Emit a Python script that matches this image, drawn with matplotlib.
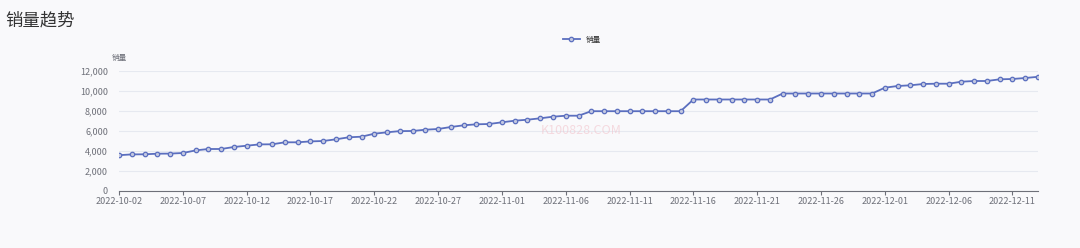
import matplotlib.pyplot as plt
import pandas as pd

plt.rcParams['font.family'] = ['Noto Sans CJK SC', 'DejaVu Sans']

# 每日销量 2022-10-02 ~ 2022-12-13
dates = pd.date_range('2022-10-02', '2022-12-13', freq='D').strftime('%Y-%m-%d').tolist()
sales = [3580, 3660, 3670, 3730, 3740, 3800, 4060, 4200, 4200, 4400,
         4530, 4660, 4670, 4870, 4870, 4960, 5000, 5170, 5370, 5430,
         5730, 5870, 5990, 6000, 6130, 6200, 6400, 6570, 6670, 6700,
         6870, 7030, 7130, 7270, 7430, 7530, 7530, 7980, 7980, 7980,
         7980, 7980, 7980, 7980, 7980, 9150, 9150, 9150, 9150, 9150,
         9150, 9150, 9750, 9750, 9750, 9750, 9750, 9750, 9750, 9750,
         10330, 10500, 10570, 10700, 10730, 10730, 10930, 11000, 11000, 11170,
         11200, 11300, 11420]
yticks = [0, 2000, 4000, 6000, 8000, 10000, 12000]

bg = '#f9f9fb'
blue = '#5b6fbf'
grey = '#6e7079'

fig = plt.figure(figsize=(10.8, 2.48), dpi=100, facecolor=bg)
ax = fig.add_axes([119 / 1080, 57 / 248, 919 / 1080, 120 / 248], facecolor=bg)

x = list(range(len(dates)))
ax.plot(x, sales, color=blue, lw=1.3, marker='o', ms=3.2,
        mfc='#c3c8e0', mec=blue, mew=0.9, label='销量', zorder=3)

ax.set_xlim(0, len(dates) - 1)
ax.set_ylim(0, 12000)
ax.set_yticks(yticks)
ax.set_yticklabels([f'{v:,}' for v in yticks])
ax.set_xticks(x[::5])
ax.set_xticklabels(dates[::5])
ax.grid(axis='y', color='#e6e9f0', lw=0.8)
ax.set_axisbelow(True)
for s in ['top', 'right', 'left']:
    ax.spines[s].set_visible(False)
ax.spines['bottom'].set_color(grey)
ax.spines['bottom'].set_linewidth(0.8)
ax.tick_params(axis='y', length=0, labelsize=6.5, labelcolor=grey, pad=8)
ax.tick_params(axis='x', length=3, color=grey, labelsize=6.5, labelcolor=grey, pad=1)

ax.text(0, 12900, '销量', fontsize=5.5, color=grey, ha='center', va='bottom')
ax.text(36.2, 6050, 'K100828.COM', fontsize=9, color='#f2c4cc', alpha=0.6,
        ha='center', va='center', zorder=1)

fig.text(5 / 1080, 1 - 20 / 248, '销量趋势', fontsize=12.5, color='#333333',
         ha='left', va='center')
fig.legend(loc='center', bbox_to_anchor=(582 / 1080, 1 - 40 / 248), frameon=False,
           fontsize=5.5, handlelength=2.2, labelcolor='#333333')

fig.savefig('out.png', dpi=100, facecolor=bg)
